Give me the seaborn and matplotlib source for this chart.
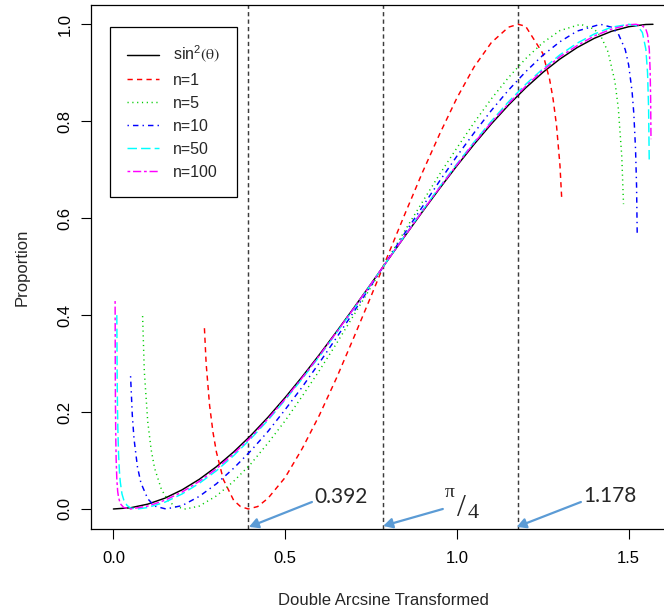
import matplotlib
matplotlib.use("Agg")
import matplotlib.pyplot as plt
import seaborn as sns
import numpy as np

# ---------------- data ----------------
t_sin = [0.0, 0.05, 0.10, 0.15, 0.20, 0.25, 0.30, 0.35, 0.40, 0.45, 0.50, 0.55,
         0.60, 0.65, 0.70, 0.75, 0.80, 0.85, 0.90, 0.95, 1.00, 1.05, 1.10, 1.15,
         1.20, 1.25, 1.30, 1.35, 1.40, 1.45, 1.50, 1.55, 1.5708]
p_sin = [0.0, 0.0025, 0.0100, 0.0223, 0.0395, 0.0612, 0.0873, 0.1176, 0.1516,
         0.1892, 0.2299, 0.2732, 0.3188, 0.3663, 0.4150, 0.4646, 0.5146, 0.5644,
         0.6136, 0.6616, 0.7081, 0.7524, 0.7943, 0.8331, 0.8687, 0.9006, 0.9284,
         0.9520, 0.9711, 0.9855, 0.9950, 0.9996, 1.0]

t_n1 = [0.265, 0.27, 0.28, 0.29, 0.30, 0.32, 0.35, 0.37, 0.3927, 0.42, 0.45,
        0.50, 0.55, 0.60, 0.65, 0.70, 0.75, 0.7854, 0.80, 0.85, 0.90, 0.95,
        1.00, 1.05, 1.10, 1.15, 1.1781, 1.20, 1.25, 1.27, 1.28, 1.29, 1.30, 1.305]
p_n1 = [0.373, 0.300, 0.214, 0.158, 0.117, 0.061, 0.018, 0.005, 0.0, 0.005,
        0.022, 0.065, 0.125, 0.194, 0.271, 0.354, 0.439, 0.5, 0.525, 0.611,
        0.695, 0.774, 0.848, 0.912, 0.962, 0.994, 1.0, 0.996, 0.940, 0.886,
        0.846, 0.791, 0.709, 0.642]

t_n5 = [0.085, 0.09, 0.10, 0.11, 0.12, 0.14, 0.16, 0.18, 0.21, 0.25, 0.30,
        0.35, 0.40, 0.45, 0.50, 0.55, 0.60, 0.65, 0.70, 0.75, 0.7854, 0.80,
        0.85, 0.90, 0.95, 1.00, 1.05, 1.10, 1.15, 1.20, 1.25, 1.30, 1.36, 1.40,
        1.42, 1.44, 1.46, 1.47, 1.48, 1.485]
p_n5 = [0.398, 0.284, 0.180, 0.122, 0.084, 0.040, 0.017, 0.005, 0.0, 0.006,
        0.027, 0.057, 0.093, 0.136, 0.182, 0.233, 0.286, 0.342, 0.400, 0.458,
        0.5, 0.517, 0.576, 0.634, 0.691, 0.745, 0.797, 0.846, 0.890, 0.929,
        0.962, 0.987, 1.0, 0.990, 0.974, 0.943, 0.882, 0.826, 0.727, 0.629]

t_n10 = [0.050, 0.055, 0.06, 0.07, 0.08, 0.10, 0.12, 0.153, 0.20, 0.25, 0.30,
         0.35, 0.40, 0.45, 0.50, 0.55, 0.60, 0.65, 0.70, 0.75, 0.7854, 0.80,
         0.85, 0.90, 0.95, 1.00, 1.05, 1.10, 1.15, 1.20, 1.25, 1.30, 1.35,
         1.4177, 1.45, 1.47, 1.49, 1.50, 1.51, 1.515, 1.52, 1.523, 1.525]
p_n10 = [0.274, 0.194, 0.145, 0.087, 0.054, 0.021, 0.006, 0.0, 0.007, 0.026,
         0.052, 0.084, 0.120, 0.160, 0.205, 0.252, 0.302, 0.354, 0.407, 0.461,
         0.5, 0.516, 0.571, 0.624, 0.677, 0.728, 0.776, 0.822, 0.864, 0.902,
         0.936, 0.964, 0.986, 1.0, 0.994, 0.980, 0.948, 0.916, 0.861, 0.816,
         0.743, 0.667, 0.562]

t_n50 = [0.010, 0.011, 0.012, 0.013, 0.015, 0.0175, 0.02, 0.025, 0.03, 0.04,
         0.05, 0.0702, 0.10, 0.15, 0.20, 0.25, 0.30, 0.35, 0.40, 0.45, 0.50,
         0.55, 0.60, 0.65, 0.70, 0.75, 0.80, 0.85, 0.90, 0.95, 1.00, 1.05,
         1.10, 1.15, 1.20, 1.25, 1.30, 1.35, 1.40, 1.45, 1.5006, 1.52, 1.53,
         1.54, 1.55, 1.555, 1.558, 1.56]
p_n50 = [0.400, 0.269, 0.206, 0.165, 0.114, 0.078, 0.056, 0.031, 0.019, 0.007,
         0.002, 0.0, 0.003, 0.014, 0.031, 0.053, 0.079, 0.110, 0.145, 0.183,
         0.225, 0.269, 0.315, 0.364, 0.413, 0.464, 0.515, 0.566, 0.616, 0.665,
         0.712, 0.757, 0.800, 0.840, 0.876, 0.908, 0.937, 0.961, 0.980, 0.994,
         1.0, 0.998, 0.993, 0.983, 0.949, 0.900, 0.828, 0.713]

t_n100 = [0.005, 0.0055, 0.006, 0.007, 0.008, 0.010, 0.0125, 0.015, 0.02, 0.03,
          0.0498, 0.10, 0.15, 0.20, 0.25, 0.30, 0.35, 0.40, 0.45, 0.50, 0.55,
          0.60, 0.65, 0.70, 0.75, 0.80, 0.85, 0.90, 0.95, 1.00, 1.05, 1.10,
          1.15, 1.20, 1.25, 1.30, 1.35, 1.40, 1.45, 1.50, 1.521, 1.54, 1.55,
          1.555, 1.56, 1.5625, 1.564, 1.565]
p_n100 = [0.429, 0.280, 0.215, 0.143, 0.103, 0.061, 0.036, 0.024, 0.011, 0.003,
          0.0, 0.006, 0.018, 0.035, 0.057, 0.083, 0.114, 0.148, 0.186, 0.227,
          0.271, 0.317, 0.365, 0.414, 0.464, 0.515, 0.565, 0.615, 0.663, 0.710,
          0.755, 0.797, 0.836, 0.872, 0.905, 0.933, 0.956, 0.976, 0.990, 0.999,
          1.0, 0.997, 0.990, 0.979, 0.949, 0.905, 0.846, 0.763]

series_labels = ["sin$^{2}$$\\mathrm{(\\theta)}$", "n=1", "n=5", "n=10", "n=50", "n=100"]
vline_x = [0.3927, 0.7854, 1.1781]
x_ticks = [0.0, 0.5, 1.0, 1.5]
x_ticklabels = ["0.0", "0.5", "1.0", "1.5"]
y_ticks = [0.0, 0.2, 0.4, 0.6, 0.8, 1.0]
y_ticklabels = ["0.0", "0.2", "0.4", "0.6", "0.8", "1.0"]
annot_labels = ["0.392", "1.178"]

# ---------------- styling ----------------
sns.set_style("ticks")
plt.rcParams["font.family"] = ["Liberation Sans", "DejaVu Sans"]
plt.rcParams["mathtext.fontset"] = "stix"
plt.rcParams["mathtext.default"] = "regular"

colors = ["black", "#FF0000", "#00CD00", "#0000FF", "#00FFFF", "#FF00FF"]
styles = ["-", (0, (3.6, 2.9)), (0, (0.8, 2.5)), (0, (0.95, 2.8, 3.75, 2.8)),
          (0, (6.5, 2.8)), (0, (1.9, 1.9, 5.6, 1.9))]

fig = plt.figure(figsize=(6.64, 6.13), dpi=100)
ax = fig.add_axes([0.13705, 0.13703, 0.87801, 0.85481])

all_t = [t_sin, t_n1, t_n5, t_n10, t_n50, t_n100]
all_p = [p_sin, p_n1, p_n5, p_n10, p_n50, p_n100]
for t, p, c, ls, lab in zip(all_t, all_p, colors, styles, series_labels):
    sns.lineplot(x=t, y=p, ax=ax, color=c, linestyle=ls, linewidth=1.05,
                 label=lab, sort=False, estimator=None, legend=False)

for xv in vline_x:
    ax.axvline(xv, color="#3c3c3c", linewidth=1.05, linestyle=(0, (2.9, 2.2)), zorder=1)

ax.set_xlim(-0.0652, 1.632)
ax.set_ylim(-0.0413, 1.0398)
ax.set_xticks(x_ticks)
ax.set_xticklabels(x_ticklabels)
ax.set_yticks(y_ticks)
ax.set_yticklabels(y_ticklabels, rotation=90, va="center")
ax.tick_params(axis="both", direction="out", length=7, width=0.8, colors="black",
               labelsize=12)
ax.tick_params(axis="x", pad=9)
ax.tick_params(axis="y", pad=6.5)
for sp in ax.spines.values():
    sp.set_color("black")
    sp.set_linewidth(0.9)

ax.set_xlabel("Double Arcsine Transformed", fontsize=12)
ax.set_ylabel("Proportion", fontsize=12)
ax.xaxis.set_label_coords(0.501, -0.137)
ax.xaxis.label.set_verticalalignment("center")
ax.yaxis.set_label_coords(-0.118, 0.5)
ax.yaxis.label.set_verticalalignment("center")

handles, labels = ax.get_legend_handles_labels()
leg = ax.legend(handles, labels, loc="upper left", bbox_to_anchor=(0.0326, 0.958),
                fontsize=11.5, frameon=True, fancybox=False, framealpha=1,
                edgecolor="black", handlelength=2.0, handletextpad=0.875,
                borderpad=1.05, labelspacing=0.5, borderaxespad=0)
leg.get_frame().set_linewidth(0.9)

# ---------------- annotations ----------------
arrow_c = "#5B9BD5"
akw = dict(arrowstyle="-|>,head_length=0.55,head_width=0.3", color=arrow_c, lw=1.6,
           shrinkA=0, shrinkB=0)
ax.annotate("", xy=(vline_x[0] + 0.002, -0.037), xytext=(0.578, 0.0144),
            arrowprops=akw, annotation_clip=False)
ax.text(0.584, 0.0247, annot_labels[0], fontsize=15, family="Lato",
        ha="left", va="center")

ax.annotate("", xy=(vline_x[1], -0.035), xytext=(0.959, 0.0),
            arrowprops=akw, annotation_clip=False)
ax.text(0.979, 0.0330, "\u03c0", fontsize=14, family="Liberation Serif",
        ha="center", va="center")
ax.text(1.014, 0.0, "/", fontsize=23, family="Liberation Serif",
        ha="center", va="center")
ax.text(1.047, -0.0085, "4", fontsize=16, family="Liberation Serif",
        ha="center", va="center")

ax.annotate("", xy=(vline_x[2] - 0.004, -0.037), xytext=(1.361, 0.0144),
            arrowprops=akw, annotation_clip=False)
ax.text(1.368, 0.0268, annot_labels[1], fontsize=15, family="Lato",
        ha="left", va="center")

fig.savefig("out.png", dpi=100)
